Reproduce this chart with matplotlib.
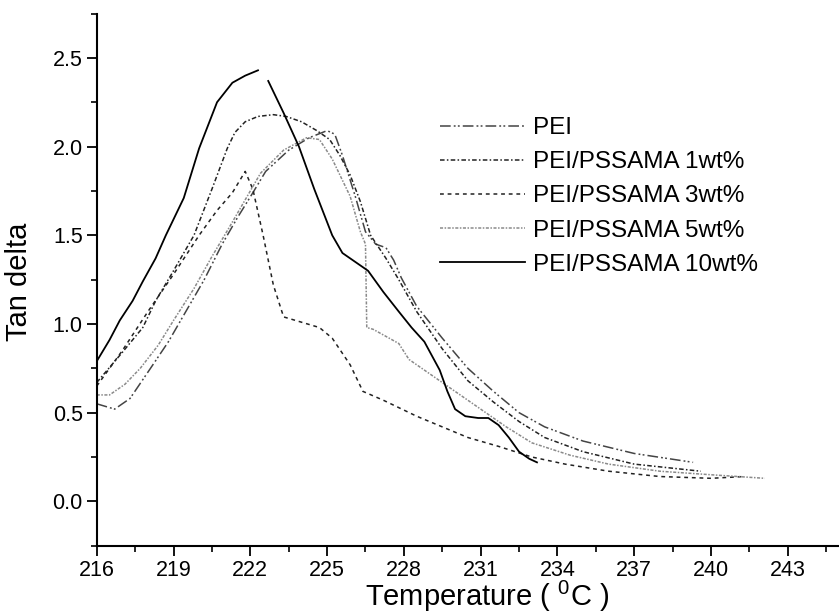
# Tan delta vs temperature for PEI and PEI/PSSAMA blends (DMA curves)

import numpy as np
import matplotlib.pyplot as plt
from matplotlib.ticker import MultipleLocator

plt.rc('font', family=['Liberation Sans', 'DejaVu Sans'])
plt.rc('mathtext', fontset='custom', rm='Liberation Sans')

# series values (temperature in C, tan delta)
pei_t = [216.0, 216.7, 217.3, 218.1, 218.8, 219.4, 220.2, 220.9, 221.5, 222.1, 222.6,
         223.5, 224.3, 225.0, 225.3, 225.6, 226.1, 226.5, 226.9, 227.3, 227.6, 227.9,
         228.5, 229.5, 230.5, 231.5, 232.5, 233.5, 235.0, 237.0, 239.3]
pei_v = [0.55, 0.52, 0.58, 0.75, 0.90, 1.05, 1.25, 1.45, 1.60, 1.74, 1.86,
         1.98, 2.05, 2.09, 2.07, 1.95, 1.72, 1.52, 1.45, 1.43, 1.36, 1.26,
         1.10, 0.92, 0.75, 0.62, 0.50, 0.42, 0.34, 0.27, 0.22]

wt1_t = [216.0, 217.0, 217.8, 218.3, 219.0, 219.8, 220.5, 221.1, 221.4, 221.8, 222.3, 222.9,
         223.4, 224.0, 224.6, 225.1, 225.5, 225.9, 226.3, 226.7, 227.3, 227.8, 228.5,
         229.5, 230.5, 231.5, 232.5, 233.5, 235.0, 237.0, 239.6]
wt1_v = [0.67, 0.84, 0.98, 1.13, 1.30, 1.50, 1.76, 1.99, 2.08, 2.14, 2.17, 2.18,
         2.17, 2.14, 2.09, 2.04, 1.95, 1.84, 1.69, 1.50, 1.37, 1.25, 1.07,
         0.86, 0.68, 0.56, 0.45, 0.36, 0.28, 0.21, 0.17]

wt3_t = [216.0, 217.0, 218.0, 219.0, 220.0, 220.7, 221.3, 221.8, 222.1, 222.5, 222.9,
         223.3, 224.0, 224.7, 225.2, 225.9, 226.4, 227.2, 228.5, 229.5, 230.5, 231.7,
         233.0, 234.3, 236.0, 238.0, 240.0, 241.3]
wt3_v = [0.65, 0.85, 1.07, 1.28, 1.50, 1.64, 1.74, 1.86, 1.76, 1.50, 1.22,
         1.04, 1.01, 0.98, 0.92, 0.77, 0.62, 0.57, 0.48, 0.42, 0.36, 0.31,
         0.25, 0.21, 0.17, 0.14, 0.13, 0.14]

wt5_t = [216.0, 216.5, 217.1, 217.7, 218.4, 219.0, 219.8, 220.5, 221.2, 221.8, 222.4,
         223.3, 224.2, 224.7, 225.2, 225.9, 226.3, 226.5, 226.55, 226.8, 227.8, 228.2,
         229.0, 230.0, 231.0, 232.0, 233.0, 234.5, 236.0, 238.0, 240.0, 242.1]
wt5_v = [0.60, 0.60, 0.66, 0.75, 0.88, 1.02, 1.20, 1.38, 1.55, 1.70, 1.85,
         1.98, 2.05, 2.04, 1.93, 1.72, 1.52, 1.45, 0.98, 0.97, 0.89, 0.80,
         0.72, 0.62, 0.52, 0.42, 0.33, 0.26, 0.21, 0.17, 0.15, 0.13]

# 10wt% has a small break just after the peak (nan keeps the gap)
wt10_t = [216.0, 216.5, 216.9, 217.4, 217.8, 218.3, 218.7, 219.4, 220.0, 220.7, 221.3,
          221.8, 222.3, np.nan, 222.7, 223.3, 223.9, 224.5, 225.2, 225.6, 226.0, 226.6,
          227.2, 227.8, 228.3, 228.8, 229.1, 229.4, 229.7, 230.0, 230.4, 230.9, 231.3,
          231.7, 232.1, 232.5, 232.9, 233.2]
wt10_v = [0.79, 0.91, 1.02, 1.13, 1.24, 1.37, 1.50, 1.71, 1.99, 2.25, 2.36,
          2.40, 2.43, np.nan, 2.37, 2.19, 2.00, 1.76, 1.50, 1.40, 1.36, 1.30,
          1.18, 1.07, 0.98, 0.90, 0.82, 0.74, 0.62, 0.52, 0.48, 0.47, 0.47,
          0.43, 0.36, 0.28, 0.24, 0.22]

labels = ['PEI', 'PEI/PSSAMA 1wt%', 'PEI/PSSAMA 3wt%', 'PEI/PSSAMA 5wt%', 'PEI/PSSAMA 10wt%']

# figure at 839x616 px
fig = plt.figure(figsize=(8.39, 6.16), dpi=100)
ax = fig.add_axes([0.1153, 0.1141, 0.8847, 0.8639])

ax.plot(pei_t, pei_v, color='#444444', lw=1.1, ls=(0, (7, 2, 1.2, 1.5, 1.2, 2)), label=labels[0])
ax.plot(wt1_t, wt1_v, color='#222222', lw=1.1, ls=(0, (3, 1.5, 1, 1.5)), label=labels[1])
ax.plot(wt3_t, wt3_v, color='#222222', lw=1.1, ls=(0, (2.5, 2.5)), label=labels[2])
ax.plot(wt5_t, wt5_v, color='#8a8a8a', lw=1.1, ls=(0, (2, 1, 1, 1)), label=labels[3])
ax.plot(wt10_t, wt10_v, color='black', lw=1.3, ls='-', label=labels[4])

# axes limits and ticks
ax.set_xlim(216, 245)
ax.set_ylim(-0.25, 2.75)
ax.xaxis.set_major_locator(MultipleLocator(3))
ax.xaxis.set_minor_locator(MultipleLocator(1.5))
ax.yaxis.set_major_locator(MultipleLocator(0.5))
ax.yaxis.set_minor_locator(MultipleLocator(0.25))
ax.tick_params(which='major', direction='out', length=7, width=1.3, labelsize=15.5, pad=3)
ax.tick_params(which='minor', direction='out', length=4, width=1.2)

# only left and bottom spines
for side in ['top', 'right']:
    ax.spines[side].set_visible(False)
for side in ['left', 'bottom']:
    ax.spines[side].set_linewidth(1.5)

ax.set_xlabel(r'Temperature ( $^\mathregular{0}$C )', fontsize=21)
ax.xaxis.set_label_coords(0.526, -0.062)
ax.set_ylabel('Tan delta', fontsize=21)
ax.yaxis.set_label_coords(-0.086, 0.495)

ax.legend(loc='upper left', bbox_to_anchor=(440 / 839, 1 - 117 / 616), bbox_transform=fig.transFigure,
          frameon=False, fontsize=17.5, handlelength=3.5, handletextpad=0.33, labelspacing=0.5,
          borderpad=0, borderaxespad=0)

fig.savefig('out.png', dpi=100)
